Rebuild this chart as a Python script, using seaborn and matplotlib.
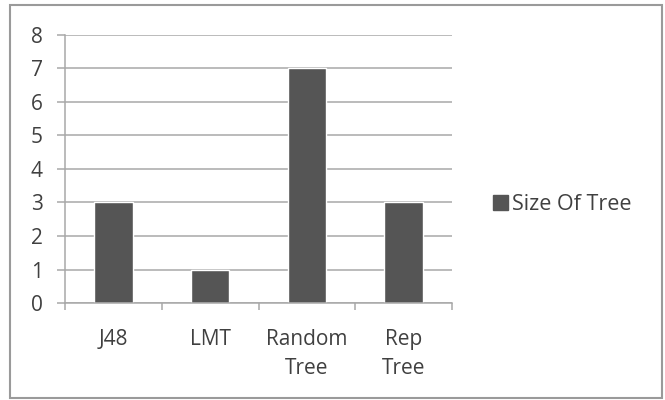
import matplotlib
matplotlib.use("Agg")
import matplotlib.pyplot as plt
import seaborn as sns
import pandas as pd
from matplotlib.patches import Rectangle

# data
algorithms = ["J48", "LMT", "Random\nTree", "Rep\nTree"]
tree_size = [3, 1, 7, 3]
series_name = "Size Of Tree"

df = pd.DataFrame({"algorithm": algorithms, "size": tree_size})

sns.set_style("white")
plt.rcParams['font.family'] = ['Open Sans', 'DejaVu Sans']

fig = plt.figure(figsize=(6.65, 4.0), dpi=100)
ax = fig.add_axes([65/665, 1-303/400, (452-65)/665, (303-35)/400])

sns.barplot(data=df, x="algorithm", y="size", color="#555555", width=0.4,
            saturation=1, label=series_name, ax=ax, legend=False)

grid_c = "#a8a8a8"
ax.set_ylim(0, 8)
ax.set_xlim(-0.5, len(algorithms) - 0.5)
ax.set_yticks(range(0, 9))
ax.yaxis.grid(True, color=grid_c, lw=1.1)
ax.set_axisbelow(True)
ax.set_xlabel("")
ax.set_ylabel("")

for s in ["top", "right"]:
    ax.spines[s].set_visible(False)
for s in ["left", "bottom"]:
    ax.spines[s].set_color(grid_c)
    ax.spines[s].set_linewidth(1.1)

ax.tick_params(axis="y", length=6, width=1.1, color=grid_c, pad=10,
               labelsize=15, labelcolor="#404040", left=True)
ax.tick_params(axis="x", which="major", length=0, pad=19,
               labelsize=15, labelcolor="#404040")
for lbl in ax.get_xticklabels():
    lbl.set_linespacing(1.45)
ax.set_xticks([i - 0.5 for i in range(len(algorithms) + 1)], minor=True)
ax.tick_params(axis="x", which="minor", length=5, width=1.1, color=grid_c,
               bottom=True, direction="out")

handles = [Rectangle((0, 0), 1, 1, color="#555555")]
fig.legend(handles, [series_name], loc="center left",
           bbox_to_anchor=(493/665, 1-205/400), frameon=False,
           borderpad=0, borderaxespad=0,
           handlelength=0.7, handleheight=0.7, handletextpad=0.2,
           prop={"size": 15.5}, labelcolor="#404040")

# outer chart border
fig.patches.append(Rectangle((10/665, 2/400), 652/665, 393/400,
                             transform=fig.transFigure, fill=False,
                             edgecolor="#9a9a9a", lw=1.5))

fig.savefig("out.png", dpi=100)
